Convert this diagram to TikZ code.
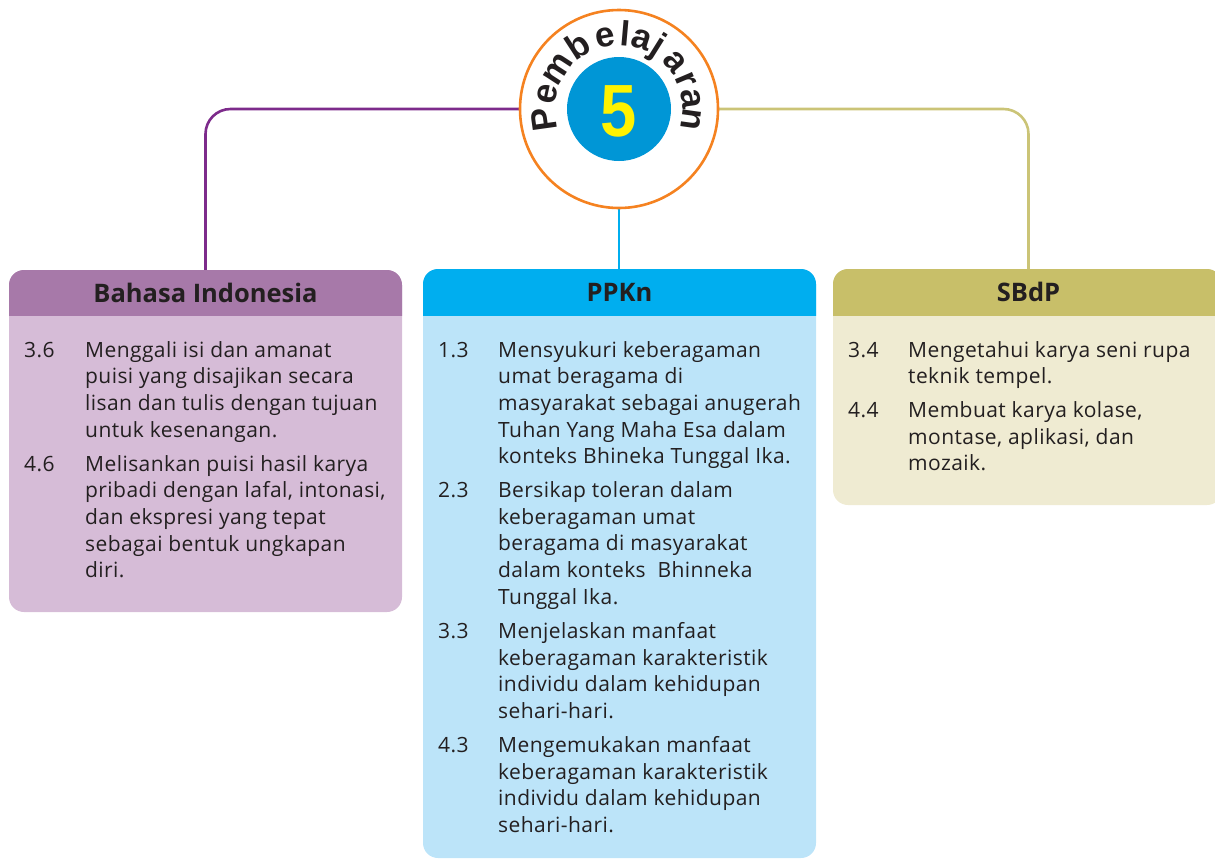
\documentclass[tikz,border=0pt]{standalone}
\usepackage{fontspec}
\setmainfont{Open Sans}
\newfontfamily\bodyfam[LetterSpace=2.0]{Open Sans}
\newfontfamily\numfont{Liberation Sans}
\definecolor{linePurple}{RGB}{125,43,139}
\definecolor{lineLime}{RGB}{203,196,119}
\definecolor{lineBlue}{RGB}{0,174,239}
\definecolor{ringOrange}{RGB}{245,130,32}
\definecolor{discBlue}{RGB}{0,150,214}
\definecolor{numYellow}{RGB}{255,242,0}
\definecolor{biHead}{RGB}{167,121,169}
\definecolor{biBody}{RGB}{214,188,215}
\definecolor{ppHead}{RGB}{0,174,239}
\definecolor{ppBody}{RGB}{188,228,249}
\definecolor{sbHead}{RGB}{200,191,105}
\definecolor{sbBody}{RGB}{239,235,210}
\definecolor{ink}{RGB}{35,31,32}
\newcommand\bodyfont{\bodyfam\fontsize{21}{26.7}\selectfont}
\newcommand\headfont{\fontsize{25.5}{28}\selectfont\bfseries}
\newcommand\arcfont{\numfont\fontsize{35}{36}\selectfont\bfseries}
\newcommand\itm[1]{\begin{tabular}[t]{@{}l@{}}#1\end{tabular}}
\tikzset{
  conn/.style={line width=2.6pt, rounded corners=25pt},
  headtxt/.style={inner sep=0pt, minimum height=45pt, text=ink, font=\headfont},
  numtxt/.style={anchor=base west, inner sep=0pt, text=ink, font=\bodyfont},
  itemtxt/.style={anchor=base west, inner sep=0pt, text=ink, font=\bodyfont},
  arcletter/.style={anchor=base, inner sep=0pt, text=ink, font=\arcfont},
}
\begin{document}
\begin{tikzpicture}[x=1pt,y=1pt]
\useasboundingbox (0,0) rectangle (1215,-860);
\clip (0,0) rectangle (1215,-860);

% ---- boxes ----
% Bahasa Indonesia
\fill[biBody, rounded corners=15pt] (9,-270) rectangle (402,-612);
\begin{scope}
  \clip (0,-260) rectangle (420,-315);
  \fill[biHead, rounded corners=15pt] (9,-270) rectangle (402,-612);
\end{scope}
% PPKn
\fill[ppBody, rounded corners=15pt] (423,-269) rectangle (816,-858);
\begin{scope}
  \clip (415,-260) rectangle (825,-315);
  \fill[ppHead, rounded corners=15pt] (423,-269) rectangle (816,-858);
\end{scope}
% SBdP
\fill[sbBody, rounded corners=15pt] (833,-269) rectangle (1222,-505);
\begin{scope}
  \clip (825,-260) rectangle (1230,-315);
  \fill[sbHead, rounded corners=15pt] (833,-269) rectangle (1222,-505);
\end{scope}

% ---- headers ----
\node[headtxt, minimum width=393pt] (bihead) at (205.5,-292.5) {Bahasa Indonesia};
\node[headtxt, minimum width=393pt] (pphead) at (619.5,-292) {PPKn};
\node[headtxt, minimum width=389pt] (sbhead) at (1028.5,-292) {SBdP};

% ---- centre badge ----
\node[circle, minimum size=200pt, inner sep=0pt] (circ) at (619,-109) {};

% ---- connectors ----
\draw[conn, linePurple] (circ.west) -| (bihead.north);
\draw[conn, lineLime] (circ.east) -| (sbhead.north);
\draw[conn, lineBlue] (circ.south) -- (circ.south |- pphead.north);

\fill[white] (circ.center) circle[radius=100pt];
\draw[ringOrange, line width=2.6pt] (circ.center) circle[radius=99pt];
\node[circle, fill=discBlue, minimum size=104pt, inner sep=0pt] (disc) at (circ.center) {};
\node[text=numYellow, font=\numfont\bfseries\fontsize{74}{74}\selectfont, inner sep=0pt, xscale=0.88] (five) at (618.5,-111) {5};

% arc title, letter by letter
\foreach \ch/\ang/\nm in {P/188/a1, e/168/a2, m/147/a3, b/123/a4, e/101/a5, l/85/a6, a/72/a7, j/58/a8, a/40/a9, r/23/a10, a/8/a11, n/-8/a12}
  \node[arcletter, rotate=\ang-90] (\nm) at ([shift={(\ang:63.5)}]circ.center) {\ch};

% ---- Bahasa Indonesia items ----
\node[numtxt] (bi1n) at (24,-357) {3.6};
\node[itemtxt] (bi1) at (85,-357) {\itm{Menggali isi dan amanat\\puisi yang disajikan secara\\lisan dan tulis dengan tujuan\\untuk kesenangan.}};
\node[numtxt] (bi2n) at (24,-471) {4.6};
\node[itemtxt] (bi2) at (85,-471) {\itm{Melisankan puisi hasil karya\\pribadi dengan lafal, intonasi,\\dan ekspresi yang tepat\\sebagai bentuk ungkapan\\diri.}};

% ---- PPKn items ----
\node[numtxt] (pp1n) at (438,-357) {1.3};
\node[itemtxt] (pp1) at (498,-357) {\itm{Mensyukuri keberagaman\\umat beragama di\\masyarakat sebagai anugerah\\Tuhan Yang Maha Esa dalam\\konteks Bhineka Tunggal Ika.}};
\node[numtxt] (pp2n) at (438,-497.5) {2.3};
\node[itemtxt] (pp2) at (498,-497.5) {\itm{Bersikap toleran dalam\\keberagaman umat\\beragama di masyarakat\\dalam konteks~ Bhinneka\\Tunggal Ika.}};
\node[numtxt] (pp3n) at (438,-638.5) {3.3};
\node[itemtxt] (pp3) at (498,-638.5) {\itm{Menjelaskan manfaat\\keberagaman karakteristik\\individu dalam kehidupan\\sehari-hari.}};
\node[numtxt] (pp4n) at (438,-752.5) {4.3};
\node[itemtxt] (pp4) at (498,-752.5) {\itm{Mengemukakan manfaat\\keberagaman karakteristik\\individu dalam kehidupan\\sehari-hari.}};

% ---- SBdP items ----
\node[numtxt] (sb1n) at (848,-357) {3.4};
\node[itemtxt] (sb1) at (908,-357) {\itm{Mengetahui karya seni rupa\\teknik tempel.}};
\node[numtxt] (sb2n) at (848,-417.5) {4.4};
\node[itemtxt] (sb2) at (908,-417.5) {\itm{Membuat karya kolase,\\montase, aplikasi, dan\\mozaik.}};
\end{tikzpicture}
\end{document}
